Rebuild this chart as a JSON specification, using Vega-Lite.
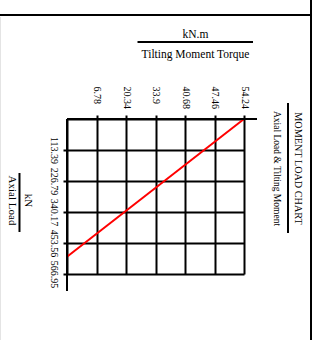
{
  "$schema": "https://vega.github.io/schema/vega-lite/v6.json",
  "width": 177,
  "height": 155,
  "autosize": {"type": "none"},
  "padding": {"left": 67, "top": 119, "right": 70, "bottom": 66},
  "background": "white",
  "config": {"view": {"stroke": null}, "font": "Liberation Serif"},
  "title": {
    "text": "MOMENT LOAD CHART",
    "subtitle": "Axial Load & Tilting Moment",
    "orient": "right",
    "anchor": "middle",
    "frame": "group",
    "offset": -41,
    "dx": -28,
    "font": "Liberation Serif",
    "fontSize": 10.2,
    "fontWeight": "normal",
    "color": "black",
    "subtitleFont": "Liberation Serif",
    "subtitleFontSize": 9.5,
    "subtitleColor": "black",
    "subtitlePadding": 11
  },
  "layer": [
    {
      "data": {"values": [{"torque": 0, "axial_load": 503.7}, {"torque": 54.24, "axial_load": 0}]},
      "mark": {"type": "line", "color": "#ff0000", "strokeWidth": 2},
      "encoding": {
        "x": {
          "field": "torque", "type": "quantitative",
          "scale": {"domain": [0, 6.78, 20.34, 33.9, 40.68, 47.46, 54.24], "range": [0, 29.5, 59, 88.5, 118, 147.5, 177], "zero": false, "nice": false},
          "axis": {
            "orient": "top",
            "values": [6.78, 20.34, 33.9, 40.68, 47.46, 54.24],
            "tickCount": 20,
            "format": ".2~f",
            "grid": true, "gridColor": "black", "gridWidth": 2, "gridOpacity": 1,
            "domainColor": "black", "domainWidth": 2,
            "tickColor": "black", "tickWidth": 2, "tickSize": 4,
            "labelAngle": 90, "labelAlign": "left", "labelBaseline": "middle", "labelPadding": 29,
            "labelFont": "Liberation Serif", "labelFontSize": 10, "labelColor": "black",
            "labelFlush": false, "labelOverlap": false,
            "title": ["kN.m", "Tilting Moment Torque"],
            "titleFont": "Liberation Serif", "titleFontSize": 11.5, "titleFontWeight": "normal", "titleColor": "black",
            "titleAlign": "center", "titleAngle": 0, "titleBaseline": "alphabetic", "titleLineHeight": 20,
            "titleX": 128, "titleY": -82
          }
        },
        "y": {
          "field": "axial_load", "type": "quantitative",
          "scale": {"domain": [0, 566.95], "reverse": true, "zero": false, "nice": false},
          "axis": {
            "orient": "left",
            "values": [113.39, 226.79, 340.17, 453.56, 566.95],
            "tickCount": 20,
            "format": ".2~f",
            "grid": true, "gridColor": "black", "gridWidth": 2, "gridOpacity": 1,
            "domainColor": "black", "domainWidth": 2,
            "tickColor": "black", "tickWidth": 2, "tickSize": 4,
            "labelAngle": 90, "labelAlign": "center", "labelBaseline": "top", "labelPadding": 5,
            "labelFont": "Liberation Serif", "labelFontSize": 10, "labelColor": "black",
            "labelFlush": false, "labelOverlap": false,
            "title": ["kN", "Axial Load"],
            "titleFont": "Liberation Serif", "titleFontSize": 11, "titleFontWeight": "normal", "titleColor": "black",
            "titleAlign": "center", "titleAngle": 90, "titleBaseline": "alphabetic", "titleLineHeight": 16.5,
            "titleX": -42.5, "titleY": 81
          }
        }
      }
    },
    {
      "data": {"values": [{}]},
      "mark": {"type": "rule", "color": "black", "strokeWidth": 2},
      "encoding": {"x": {"datum": 0}, "x2": {"datum": 57.23}, "y": {"datum": 0}}
    },
    {
      "data": {"values": [{}]},
      "mark": {"type": "rule", "color": "black", "strokeWidth": 2},
      "encoding": {"x": {"datum": 0}, "y": {"datum": 0}, "y2": {"datum": 629}}
    },
    {
      "data": {"values": [{}]},
      "mark": {"type": "rule", "color": "black", "strokeWidth": 2},
      "encoding": {"x": {"datum": 25.63}, "x2": {"datum": 56.31}, "y": {"datum": -281.6}}
    },
    {
      "data": {"values": [{}]},
      "mark": {"type": "rule", "color": "black", "strokeWidth": 2},
      "encoding": {"x": {"datum": -10.92}, "y": {"datum": 197.5}, "y2": {"datum": 413.3}}
    },
    {
      "data": {"values": [{}]},
      "mark": {"type": "rule", "color": "black", "strokeWidth": 2},
      "encoding": {"x": {"datum": 64.35}, "y": {"datum": -58.5}, "y2": {"datum": 417}}
    },
    {
      "data": {"values": [{}]},
      "mark": {"type": "rule", "color": "black", "strokeWidth": 2},
      "encoding": {"x": {"datum": -15.51}, "x2": {"datum": 69.87}, "y": {"datum": -380.4}}
    },
    {
      "data": {"values": [{}]},
      "mark": {"type": "rule", "color": "black", "strokeWidth": 2},
      "encoding": {"x": {"datum": 69.64}, "y": {"datum": -435.3}, "y2": {"datum": 808.4}}
    },
    {
      "data": {"values": [{}]},
      "mark": {"type": "rule", "color": "#e4e4e4", "strokeWidth": 1},
      "encoding": {"x": {"datum": -15.28}, "y": {"datum": -373.1}, "y2": {"datum": 808.4}}
    }
  ]
}
